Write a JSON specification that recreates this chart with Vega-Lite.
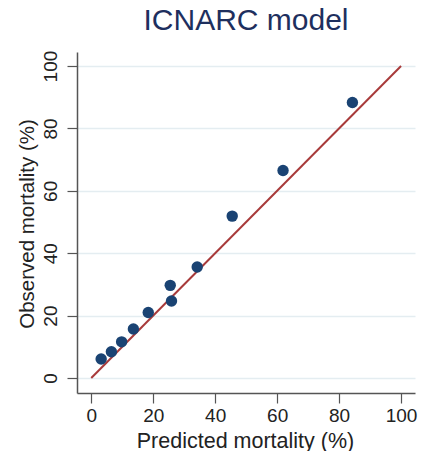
{
  "$schema": "https://vega.github.io/schema/vega-lite/v6.json",
  "width": 338,
  "height": 341,
  "autosize": {"type": "none"},
  "padding": {"left": 77, "top": 52, "right": 8, "bottom": 58},
  "background": "white",
  "title": {"text": "ICNARC model", "fontSize": 30, "font": "Liberation Sans", "fontWeight": "normal", "color": "#1e2f5e", "anchor": "middle", "offset": 14},
  "config": {"view": {"stroke": null}, "font": "Liberation Sans"},
  "datasets": {
    "points": [
      {"predicted": 3.2, "observed": 6.1},
      {"predicted": 6.5, "observed": 8.4},
      {"predicted": 9.8, "observed": 11.6},
      {"predicted": 13.6, "observed": 15.7},
      {"predicted": 18.4, "observed": 21.0},
      {"predicted": 25.5, "observed": 29.7},
      {"predicted": 25.9, "observed": 24.7},
      {"predicted": 34.2, "observed": 35.6},
      {"predicted": 45.5, "observed": 51.9},
      {"predicted": 61.9, "observed": 66.5},
      {"predicted": 84.3, "observed": 88.3}
    ],
    "identity": [
      {"predicted": 0, "observed": 0},
      {"predicted": 100, "observed": 100}
    ]
  },
  "layer": [
    {
      "data": {"name": "identity"},
      "mark": {"type": "line", "color": "#a83a3a", "strokeWidth": 2},
      "encoding": {
        "x": {"field": "predicted", "type": "quantitative", "scale": {"domain": [-4.6, 104.5], "nice": false}},
        "y": {"field": "observed", "type": "quantitative", "scale": {"domain": [-4.8, 104.5], "nice": false}}
      }
    },
    {
      "data": {"name": "points"},
      "mark": {"type": "circle", "size": 130, "color": "#1a4373", "opacity": 1},
      "encoding": {
        "x": {"field": "predicted", "type": "quantitative",
          "axis": {"title": "Predicted mortality (%)", "values": [0, 20, 40, 60, 80, 100], "grid": false,
            "domainColor": "#555555", "domainWidth": 1.5, "tickColor": "#555555", "tickSize": 10, "tickWidth": 1.2,
            "labelFontSize": 19, "labelColor": "#222222", "labelPadding": 3,
            "titleFontSize": 21.5, "titleFontWeight": "normal", "titleColor": "#222222",
            "titleX": 168, "titleY": 54, "titleBaseline": "alphabetic", "titleAlign": "center"}},
        "y": {"field": "observed", "type": "quantitative",
          "axis": {"title": "Observed mortality (%)", "values": [0, 20, 40, 60, 80, 100], "grid": true,
            "gridColor": "#e4edf1", "gridWidth": 1.5,
            "domainColor": "#555555", "domainWidth": 1.5, "tickColor": "#555555", "tickSize": 10, "tickWidth": 1.2,
            "labelFontSize": 19, "labelColor": "#222222", "labelAngle": -90, "labelAlign": "center", "labelBaseline": "bottom", "labelPadding": 7,
            "titleFontSize": 20.5, "titleFontWeight": "normal", "titleColor": "#222222",
            "titleX": -44, "titleY": 171.5, "titleAngle": -90, "titleBaseline": "alphabetic", "titleAlign": "center"}}
      }
    }
  ]
}
